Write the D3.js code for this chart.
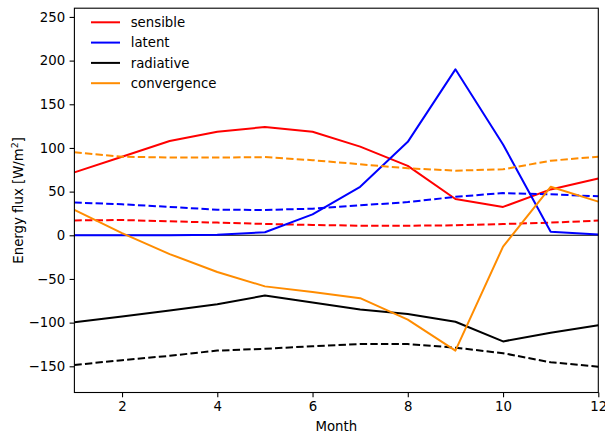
<!DOCTYPE html>
<html>
<head>
<meta charset="utf-8">
<script src="https://cdn.jsdelivr.net/npm/d3@7"></script>
<style>
  html, body { margin: 0; padding: 0; background: #fff; }
  svg { display: block; font-family: "DejaVu Sans", sans-serif; }
</style>
</head>
<body>
<svg id="chart" width="605" height="435"></svg>
<script>
// Monthly energy budget terms, solid = one case, dashed = the other
const months = [1, 2, 3, 4, 5, 6, 7, 8, 9, 10, 11, 12];

const sensibleSolid   = [72, 90, 108, 118.5, 124, 118.5, 101.5, 79.5, 41.5, 32.5, 52.5, 65];
const sensibleDashed  = [17, 17.5, 16, 14.5, 13, 11.8, 11, 11, 11.4, 12.9, 14.5, 16.8];
const latentSolid     = [0, 0, 0, 0.5, 3.5, 24, 55.5, 107, 190, 104, 4, 1];
const latentDashed    = [37.5, 35.5, 32.5, 29.3, 29, 30.5, 34.3, 38, 44, 48.3, 47, 44.6];
const radiativeSolid  = [-99.7, -93, -86, -79, -69, -77, -85, -90, -99, -121.5, -111.5, -103];
const radiativeDashed = [-148.5, -143, -138, -132, -130, -127, -124.5, -124.5, -128.7, -135, -145.4, -150.4];
const convSolid       = [29, 2.5, -21.5, -42, -58.5, -65, -72, -96.5, -132, -13, 55.5, 38.5];
const convDashed      = [95, 90, 89, 89, 89.5, 86, 81.3, 76.7, 74, 75.5, 85.4, 90];

const seriesNames  = ["sensible", "latent", "radiative", "convergence"];
const seriesColors = ["#ff0000", "#0000ff", "#000000", "#ff8c00"];

const xTicks = [2, 4, 6, 8, 10, 12];
const yTicks = [-150, -100, -50, 0, 50, 100, 150, 200, 250];

const svg = d3.select("#chart");
const plotLeft = 74.4, plotRight = 598.3, plotTop = 8.2, plotBottom = 392.5;

const x = d3.scaleLinear().domain([1, 12]).range([plotLeft, plotRight]);
const y = d3.scaleLinear().domain([-180, 260]).range([plotBottom, plotTop]);

const line = d3.line().x((d, i) => x(months[i])).y(d => y(d));

// zero reference line
svg.append("line")
  .attr("x1", plotLeft).attr("x2", plotRight)
  .attr("y1", y(0)).attr("y2", y(0))
  .attr("stroke", "#000").attr("stroke-width", 1.1);

const pairs = [
  [sensibleSolid, sensibleDashed],
  [latentSolid, latentDashed],
  [radiativeSolid, radiativeDashed],
  [convSolid, convDashed]
];

const plot = svg.append("g");
pairs.forEach((p, k) => {
  plot.append("path")
    .datum(p[0])
    .attr("d", line)
    .attr("fill", "none")
    .attr("stroke", seriesColors[k])
    .attr("stroke-width", 2)
    .attr("stroke-linejoin", "round");
  plot.append("path")
    .datum(p[1])
    .attr("d", line)
    .attr("fill", "none")
    .attr("stroke", seriesColors[k])
    .attr("stroke-width", 2)
    .attr("stroke-dasharray", "7.4,3.2");
});

// axes
const fmt = d => (d < 0 ? "\u2212" + Math.abs(d) : String(d));
const xAxis = svg.append("g")
  .attr("transform", `translate(0,${plotBottom})`)
  .call(d3.axisBottom(x).tickValues(xTicks).tickSize(4.8).tickPadding(4.5).tickFormat(fmt));
const yAxis = svg.append("g")
  .attr("transform", `translate(${plotLeft},0)`)
  .call(d3.axisLeft(y).tickValues(yTicks).tickSize(4.8).tickPadding(4.5).tickFormat(fmt));

[xAxis, yAxis].forEach(a => {
  a.select(".domain").remove();
  a.selectAll("line").attr("stroke", "#000").attr("stroke-width", 1.1);
  a.selectAll("text").attr("fill", "#000").style("font-size", "13.3px")
    .style("font-family", "'DejaVu Sans', sans-serif");
});

// frame
svg.append("rect")
  .attr("x", plotLeft).attr("y", plotTop)
  .attr("width", plotRight - plotLeft).attr("height", plotBottom - plotTop)
  .attr("fill", "none").attr("stroke", "#000").attr("stroke-width", 1.1);

// axis labels
svg.append("text")
  .attr("x", (plotLeft + plotRight) / 2).attr("y", 431)
  .attr("text-anchor", "middle")
  .style("font-size", "13.3px")
  .text("Month");

const yl = svg.append("text")
  .attr("transform", `translate(23,${(plotTop + plotBottom) / 2}) rotate(-90)`)
  .attr("text-anchor", "middle")
  .style("font-size", "13.3px");
yl.append("tspan").text("Energy flux [W/m");
yl.append("tspan").attr("dy", -5).style("font-size", "9.5px").text("2");
yl.append("tspan").attr("dy", 5).text("]");

// legend
const legend = svg.append("g");
seriesNames.forEach((name, i) => {
  const ly = 22.3 + i * 20.3;
  legend.append("line")
    .attr("x1", 91).attr("x2", 120)
    .attr("y1", ly).attr("y2", ly)
    .attr("stroke", seriesColors[i]).attr("stroke-width", 2);
  legend.append("text")
    .attr("x", 130.7).attr("y", ly)
    .attr("dy", "0.35em")
    .style("font-size", "13.3px")
    .text(name);
});
</script>
</body>
</html>
